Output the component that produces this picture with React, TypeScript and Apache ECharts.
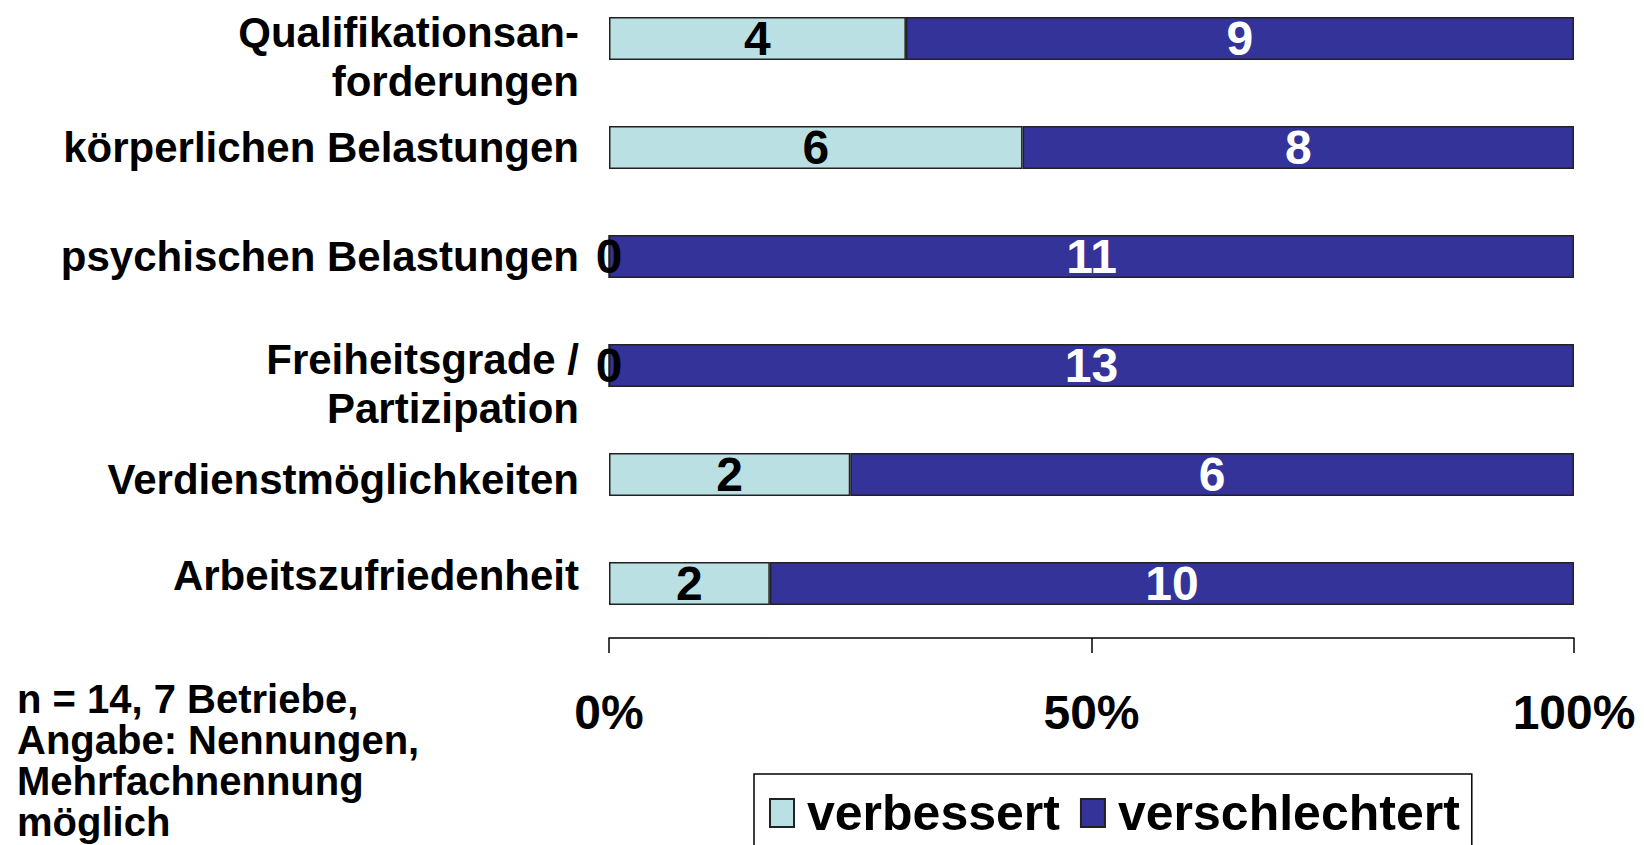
import React, { useEffect, useRef } from "react";
import * as echarts from "echarts";

const categories = [
  "Qualifikationsan-\nforderungen",
  "körperlichen Belastungen",
  "psychischen Belastungen",
  "Freiheitsgrade /\nPartizipation",
  "Verdienstmöglichkeiten",
  "Arbeitszufriedenheit",
];
const verbessert = [4, 6, 0, 0, 2, 2];
const verschlechtert = [9, 8, 11, 13, 6, 10];
const xTicks = [0, 50, 100];
const seriesNames = ["verbessert", "verschlechtert"];
const footnote = "n = 14, 7 Betriebe,\nAngabe: Nennungen,\nMehrfachnennung\nmöglich";

const FONT = "'Liberation Sans', Arial, Helvetica, sans-serif";
const LIGHT = "#BBE0E3";
const DARK = "#333399";

// vertical nudge of each category label (spacer line heights before / after)
function labelFormatter(value: string) {
  const lines = value.split("\n").map((l) => "{t|" + l + "}");
  if (lines.length > 1) return "{s37| }\n" + lines.join("\n");
  if (value === "Arbeitszufriedenheit") return lines[0] + "\n{s16| }";
  if (value === "Verdienstmöglichkeiten") return "{s10| }\n" + lines[0];
  return lines[0];
}

export default function App() {
  const ref = useRef<HTMLDivElement>(null);
  useEffect(() => {
    if (!ref.current) return;
    const chart = echarts.init(ref.current, null, { renderer: "svg" });
    const totals = verbessert.map((v, i) => v + verschlechtert[i]);
    const pctBetter = verbessert.map((v, i) => (v / totals[i]) * 100);
    const pctWorse = verschlechtert.map((v, i) => (v / totals[i]) * 100);
    const labelText = {
      fontSize: 42,
      lineHeight: 49,
      fontWeight: "bold",
      fontFamily: FONT,
      color: "#000",
    };
    chart.setOption({
      animation: false,
      backgroundColor: "#ffffff",
      grid: {
        left: 609,
        right: 70,
        top: -16,
        height: 654,
        containLabel: false,
        outerBoundsMode: "none",
      },
      xAxis: {
        type: "value",
        min: 0,
        max: 100,
        interval: 50,
        axisLine: { show: true, lineStyle: { color: "#000", width: 1.5 } },
        axisTick: { show: true, length: 15, lineStyle: { color: "#000", width: 1.5 } },
        splitLine: { show: false },
        axisLabel: {
          margin: 50,
          fontSize: 48,
          fontWeight: "bold",
          fontFamily: FONT,
          color: "#000",
          formatter: (v: number) => (xTicks.indexOf(v) >= 0 ? v + "%" : ""),
        },
      },
      yAxis: {
        type: "category",
        inverse: true,
        data: categories,
        axisLine: { show: false },
        axisTick: { show: false },
        axisLabel: {
          margin: 30,
          ...labelText,
          formatter: labelFormatter,
          rich: {
            t: labelText,
            s37: { fontSize: 1, lineHeight: 37 },
            s16: { fontSize: 1, lineHeight: 16 },
            s10: { fontSize: 1, lineHeight: 10 },
          },
        },
      },
      legend: {
        left: 754,
        top: 774,
        padding: [14, 12, 30, 15],
        borderColor: "#000",
        borderWidth: 1.5,
        itemGap: 20,
        itemWidth: 24,
        itemHeight: 28,
        icon: "rect",
        data: seriesNames,
        textStyle: {
          fontSize: 50,
          lineHeight: 50,
          fontWeight: "bold",
          fontFamily: FONT,
          color: "#000",
          padding: [0, 0, 0, 8],
        },
      },
      series: [
        {
          name: seriesNames[0],
          type: "bar",
          stack: "total",
          barWidth: 43,
          data: pctBetter,
          itemStyle: { color: LIGHT, borderColor: "#222", borderWidth: 1.5 },
          label: {
            show: true,
            position: "inside",
            fontSize: 48,
            fontWeight: "bold",
            fontFamily: FONT,
            color: "#000",
            formatter: (p: any) => String(verbessert[p.dataIndex]),
          },
        },
        {
          name: seriesNames[1],
          type: "bar",
          stack: "total",
          barWidth: 43,
          data: pctWorse,
          itemStyle: { color: DARK, borderColor: "#222", borderWidth: 1.5 },
          label: {
            show: true,
            position: "inside",
            fontSize: 48,
            fontWeight: "bold",
            fontFamily: FONT,
            color: "#fff",
            formatter: (p: any) => String(verschlechtert[p.dataIndex]),
          },
        },
      ],
      graphic: [
        {
          type: "text",
          left: 17,
          top: 678,
          style: {
            text: footnote,
            fontSize: 40,
            lineHeight: 41,
            fontWeight: "bold",
            fontFamily: FONT,
            fill: "#000",
          },
        },
      ],
    });
    return () => chart.dispose();
  }, []);
  return (
    <div
      ref={ref}
      style={{ position: "absolute", left: 0, top: 0, width: 1644, height: 845 }}
    />
  );
}
